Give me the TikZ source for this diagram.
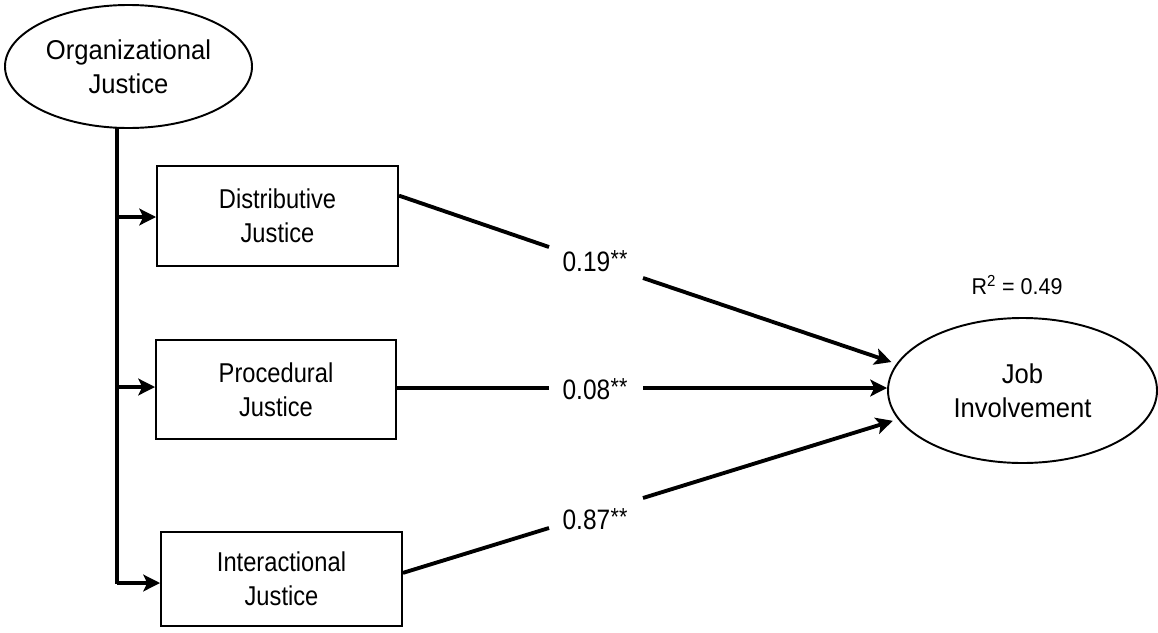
\documentclass[tikz,border=0pt]{standalone}
\usepackage{fontspec}
\setmainfont{Liberation Sans}[FakeStretch=0.87]
\newfontfamily\wideft{Liberation Sans}[FakeStretch=0.94]
\usetikzlibrary{shapes.geometric,arrows.meta,calc}
\newlength\pxu
\setlength\pxu{0.02cm}
\newcommand\stars{\kern0.3pt{\fontsize{14}{14}\selectfont\raisebox{2.5pt}{**}}}
\begin{document}
\begin{tikzpicture}[x=0.02cm,y=-0.02cm,
  txt/.style={font=\fontsize{15.5}{19.3}\selectfont, align=center},
  etxt/.style={font=\wideft\fontsize{15.5}{19.3}\selectfont, align=center},
  latent/.style={etxt, ellipse, draw, line width=1.1pt, inner sep=0pt},
  obs/.style={txt, rectangle, draw, line width=1.1pt, inner sep=0pt},
  conn/.style={line width=2.2pt},
  arr/.style={line width=2.2pt, -{Stealth[length=9.5pt,width=9.5pt,inset=2.2pt]}},
  coef/.style={font=\fontsize{16}{19}\selectfont, inner sep=0pt}
]
\useasboundingbox (0,0) rectangle (1158,632);

\node[latent, minimum width=247\pxu, minimum height=123\pxu] (org) at (128.5,66.5) {Organizational\\Justice};
\node[latent, minimum width=269\pxu, minimum height=145\pxu] (job) at (1022.5,390.5) {Job\\Involvement};

\node[obs, minimum width=241\pxu, minimum height=100\pxu] (dist) at (277.5,216) {Distributive\\Justice};
\node[obs, minimum width=240\pxu, minimum height=99\pxu] (proc) at (276,389.5) {Procedural\\Justice};
\node[obs, minimum width=241\pxu, minimum height=94\pxu] (inter) at (281.5,579) {Interactional\\Justice};

% trunk
\coordinate (top) at (117,128);
\coordinate (t1) at (117,217);
\coordinate (t2) at (117,387);
\coordinate (t3) at (117,583);
\draw[conn] (top) -- ($(t3)+(0,1)$);
\draw[arr] (t1) -- (dist.west |- t1);
\draw[arr] (t2) -- (proc.west |- t2);
\draw[arr] (t3) -- (inter.west |- t3);

% path coefficients
\node[coef] (c1) at (595,261) {0.19\stars};
\node[coef] (c2) at (595,389) {0.08\stars};
\node[coef] (c3) at (595,519) {0.87\stars};

% Distributive -> Job
\coordinate (s1) at ($(dist.north east)!0.3!(dist.south east)$);
\coordinate (a1) at (549,247);
\coordinate (b1) at (643,278);
\draw[conn] (s1) -- (a1);
\draw[arr, shorten >=3pt] (b1) -- (job.168);

% Procedural -> Job
\coordinate (a2) at (549,388);
\coordinate (b2) at (643,388);
\draw[conn] (proc.east |- a2) -- (a2);
\draw[arr] (b2) -- (job.west |- b2);

% Interactional -> Job
\coordinate (s3) at ($(inter.north east)!0.436!(inter.south east)$);
\coordinate (a3) at (549,528);
\coordinate (b3) at (643,498);
\draw[conn] (s3) -- (a3);
\draw[arr, shorten >=3pt] (b3) -- (job.193);

\node[font=\wideft\fontsize{13}{16}\selectfont, inner sep=0pt] (r2) at (1017,285) {R\textsuperscript{2} = 0.49};
\end{tikzpicture}
\end{document}
